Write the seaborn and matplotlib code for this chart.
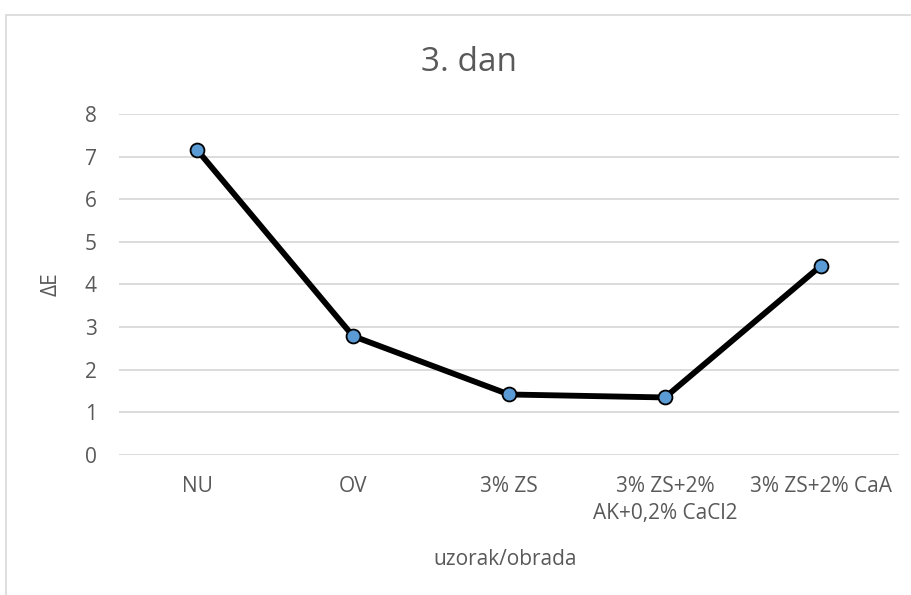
import matplotlib
matplotlib.use("Agg")
import matplotlib.pyplot as plt
import seaborn as sns
import pandas as pd

categories = ["NU", "OV", "3% ZS", "3% ZS+2%\nAK+0,2% CaCl2", "3% ZS+2% CaA"]
delta_e = [7.16, 2.79, 1.42, 1.35, 4.44]
y_ticks = [0, 1, 2, 3, 4, 5, 6, 7, 8]

sns.set_theme(style="white")
plt.rcParams["font.family"] = ["Open Sans", "DejaVu Sans"]

df = pd.DataFrame({"uzorak": categories, "dE": delta_e})

fig = plt.figure(figsize=(9.12, 5.95), dpi=100)
ax = fig.add_axes([0.1305, 0.2353, 0.8552, 0.5731])

# light chart border like the spreadsheet frame
fig.patches.append(plt.Rectangle((6 / 912, -0.01), 1.0, 1 - 15 / 595 + 0.01,
                                 transform=fig.transFigure, fill=False,
                                 edgecolor="#d9d9d9", linewidth=1.2))

sns.lineplot(data=df, x="uzorak", y="dE", ax=ax, color="black", linewidth=4.2,
             marker="o", markersize=10, markerfacecolor="#5b9bd5",
             markeredgecolor="black", markeredgewidth=1.3, sort=False)

ax.set_ylim(0, 8)
ax.set_xlim(-0.5, len(categories) - 0.5)
ax.set_yticks(y_ticks)
ax.yaxis.grid(True, color="#d9d9d9", linewidth=1.3)
ax.set_axisbelow(True)
for s in ax.spines.values():
    s.set_visible(False)
ax.tick_params(axis="both", length=0, labelsize=15, colors="#595959")
ax.tick_params(axis="x", pad=15)
ax.tick_params(axis="y", pad=16)
for lbl in ax.get_xticklabels():
    lbl.set_linespacing(1.4)

ax.set_xlabel("uzorak/obrada", fontsize=15, color="#595959")
ax.set_ylabel("ΔE", fontsize=15, color="#595959")
ax.xaxis.set_label_coords(0.495, -0.275)
ax.yaxis.set_label_coords(-0.074, 0.5)
fig.text(469 / 912, 1 - 71 / 595, "3. dan", fontsize=24, color="#595959",
         ha="center", va="baseline")

fig.savefig("out.png", dpi=100)
plt.close(fig)
